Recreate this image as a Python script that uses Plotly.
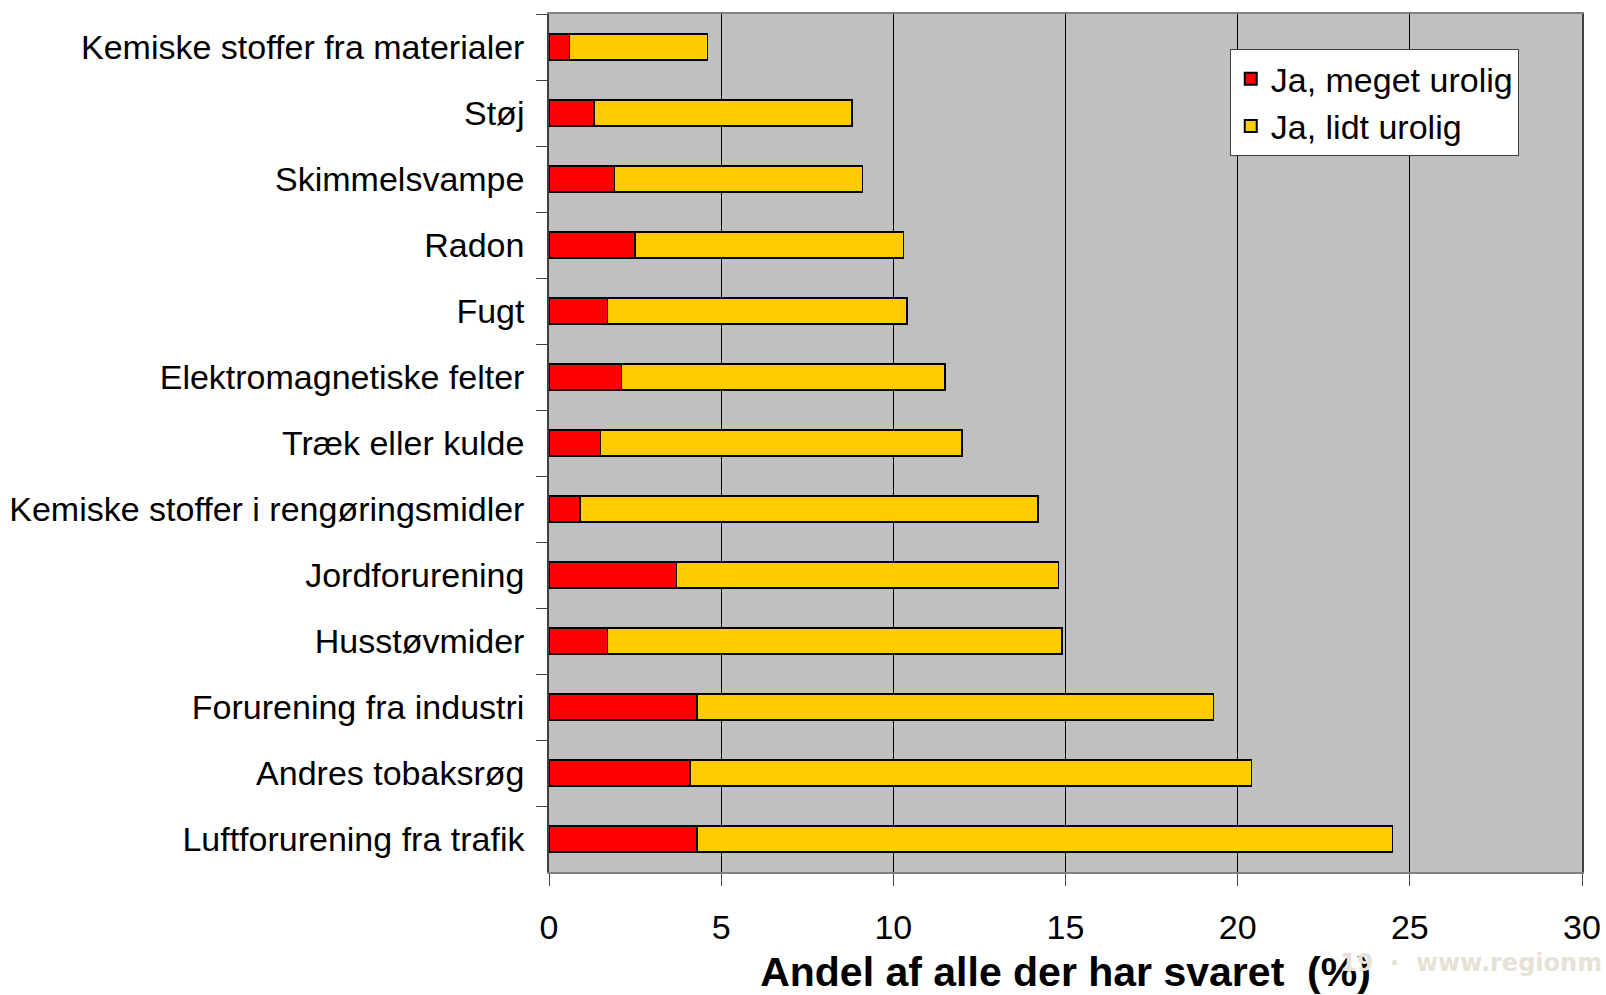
import plotly.graph_objects as go

categories = [
    "Kemiske stoffer fra materialer",
    "Støj",
    "Skimmelsvampe",
    "Radon",
    "Fugt",
    "Elektromagnetiske felter",
    "Træk eller kulde",
    "Kemiske stoffer i rengøringsmidler",
    "Jordforurening",
    "Husstøvmider",
    "Forurening fra industri",
    "Andres tobaksrøg",
    "Luftforurening fra trafik",
]
meget_urolig = [0.6, 1.3, 1.9, 2.5, 1.7, 2.1, 1.5, 0.9, 3.7, 1.7, 4.3, 4.1, 4.3]
total_urolig = [4.6, 8.8, 9.1, 10.3, 10.4, 11.5, 12.0, 14.2, 14.8, 14.9, 19.3, 20.4, 24.5]
lidt_urolig = [round(t - m, 2) for t, m in zip(total_urolig, meget_urolig)]

x_ticks = [0, 5, 10, 15, 20, 25, 30]

FONT = "Liberation Sans, Arial, sans-serif"

fig = go.Figure()
fig.add_trace(go.Bar(
    y=categories, x=meget_urolig, orientation="h", name="Ja, meget urolig",
    marker=dict(color="#FF0000", line=dict(color="#000000", width=1.5)),
))
fig.add_trace(go.Bar(
    y=categories, x=lidt_urolig, orientation="h", name="Ja, lidt urolig",
    marker=dict(color="#FFCC00", line=dict(color="#000000", width=1.5)),
))

fig.update_layout(
    width=1606, height=995,
    barmode="stack", bargap=0.6,
    paper_bgcolor="white", plot_bgcolor="#C0C0C0",
    margin=dict(l=549, r=24, t=14, b=123, autoexpand=False),
    font=dict(family=FONT, size=34, color="black"),
    showlegend=True,
    legend=dict(
        x=0.659, y=0.959, xanchor="left", yanchor="top",
        bgcolor="white", bordercolor="#404040", borderwidth=1,
        font=dict(size=34, family=FONT, color="black"),
        traceorder="normal", itemsizing="constant",
    ),
    xaxis=dict(
        range=[0, 30], tickvals=x_ticks, ticktext=[str(v) for v in x_ticks],
        showgrid=True, gridcolor="#000000", gridwidth=1,
        ticks="outside", ticklen=12, tickcolor="#404040", tickwidth=1,
        showline=True, linecolor="#808080", linewidth=1.5, mirror=True,
        ticklabelstandoff=12, zeroline=False, ticklabeloverflow="allow",
        tickfont=dict(size=34, family=FONT),
        title=dict(text="<b>Andel af alle der har svaret  (%)</b>",
                   font=dict(size=41, family=FONT), standoff=14),
    ),
    yaxis=dict(
        type="category", autorange="reversed", tickson="boundaries",
        showgrid=False, ticks="outside", ticklen=11, tickcolor="#404040",
        showline=True, linecolor="#404040", linewidth=1.5, mirror=True,
        ticklabelstandoff=16,
        tickfont=dict(size=34, family=FONT),
    ),
)

fig.add_annotation(
    x=1.0, y=-0.106, xref="paper", yref="paper",
    xanchor="right", xshift=22, yanchor="middle", showarrow=False,
    text="<b>19  ·  www.regionm</b>",
    font=dict(size=24, family="DejaVu Sans, Verdana, sans-serif", color="#E6E2D8"),
)

fig.write_html("out.html", post_script="document.body.style.margin='0px';",
               config={"displayModeBar": False})
